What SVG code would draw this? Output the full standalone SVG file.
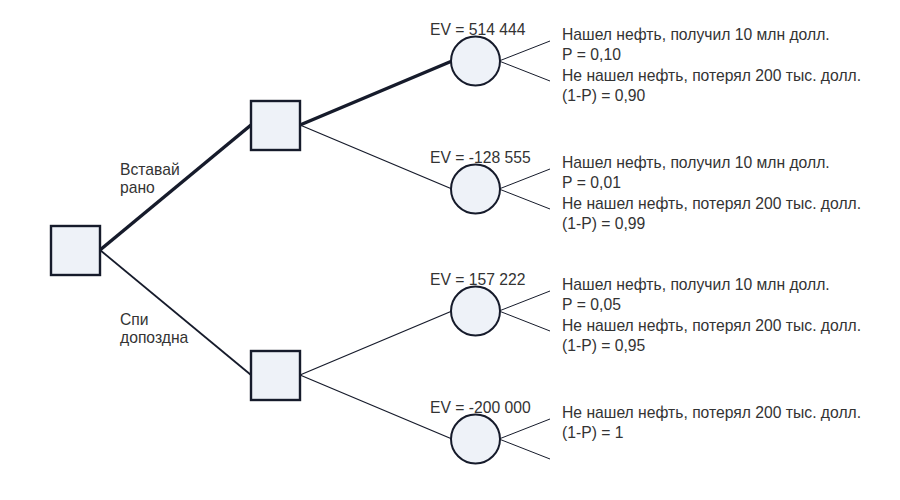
<svg xmlns="http://www.w3.org/2000/svg" width="900" height="500" viewBox="0 0 900 500">
<style>
.dec{fill:#eef2f8;stroke:#161b2b;stroke-width:2.4}
.chn{fill:#eef2f8;stroke:#161b2b;stroke-width:2}
.ln{stroke:#161b2b;fill:none}
.bold{stroke-width:3.5}
.mid{stroke-width:1.8}
.thin{stroke-width:1.2}
.br{stroke-width:1}
text{font-family:"Liberation Sans",Arial,sans-serif;font-size:15.7px;fill:#333}
</style>
<rect width="900" height="500" fill="#fff"/>
<g id="connectors">
<line class="ln bold" x1="100" y1="250" x2="251" y2="125"/>
<line class="ln mid" x1="100" y1="250" x2="251" y2="375"/>
<line class="ln bold" x1="300" y1="125" x2="452" y2="61"/>
<line class="ln thin" x1="300" y1="125" x2="452" y2="189"/>
<line class="ln thin" x1="300" y1="375" x2="452" y2="311"/>
<line class="ln thin" x1="300" y1="375" x2="452" y2="439"/>
<line class="ln br" x1="499" y1="61" x2="550" y2="41"/>
<line class="ln br" x1="499" y1="61" x2="550" y2="81"/>
<line class="ln br" x1="499" y1="189" x2="550" y2="169"/>
<line class="ln br" x1="499" y1="189" x2="550" y2="209"/>
<line class="ln br" x1="499" y1="311" x2="550" y2="291"/>
<line class="ln br" x1="499" y1="311" x2="550" y2="331"/>
<line class="ln br" x1="499" y1="439" x2="550" y2="419"/>
<line class="ln br" x1="499" y1="439" x2="550" y2="459"/>
</g>
<g id="root"><rect class="dec" x="51" y="226" width="49" height="49"/></g>
<g id="early"><rect class="dec" x="251" y="101" width="49" height="49"/></g>
<g id="late"><rect class="dec" x="251" y="351" width="49" height="49"/></g>
<g id="labels">
<text x="120" y="175">Вставай</text>
<text x="120" y="193">рано</text>
<text x="120" y="325">Спи</text>
<text x="120" y="343">допоздна</text>
</g>
<g id="c1">
<circle class="chn" cx="475.5" cy="61" r="24.5"/>
<text x="430" y="35">EV = 514 444</text>
<text x="562" y="39.5">Нашел нефть, получил 10 млн долл.</text>
<text x="562" y="60">Р = 0,10</text>
<text x="562" y="81">Не нашел нефть, потерял 200 тыс. долл.</text>
<text x="562" y="100.5">(1-Р) = 0,90</text>
</g>
<g id="c2">
<circle class="chn" cx="475.5" cy="189" r="24.5"/>
<text x="430" y="163">EV = -128 555</text>
<text x="562" y="167.5">Нашел нефть, получил 10 млн долл.</text>
<text x="562" y="188">Р = 0,01</text>
<text x="562" y="209">Не нашел нефть, потерял 200 тыс. долл.</text>
<text x="562" y="228.5">(1-Р) = 0,99</text>
</g>
<g id="c3">
<circle class="chn" cx="475.5" cy="311" r="24.5"/>
<text x="430" y="285">EV = 157 222</text>
<text x="562" y="289.5">Нашел нефть, получил 10 млн долл.</text>
<text x="562" y="310">Р = 0,05</text>
<text x="562" y="331">Не нашел нефть, потерял 200 тыс. долл.</text>
<text x="562" y="350.5">(1-Р) = 0,95</text>
</g>
<g id="c4">
<circle class="chn" cx="475.5" cy="439" r="24.5"/>
<text x="430" y="413">EV = -200 000</text>
<text x="562" y="417.5">Не нашел нефть, потерял 200 тыс. долл.</text>
<text x="562" y="438">(1-Р) = 1</text>
</g>
</svg>
